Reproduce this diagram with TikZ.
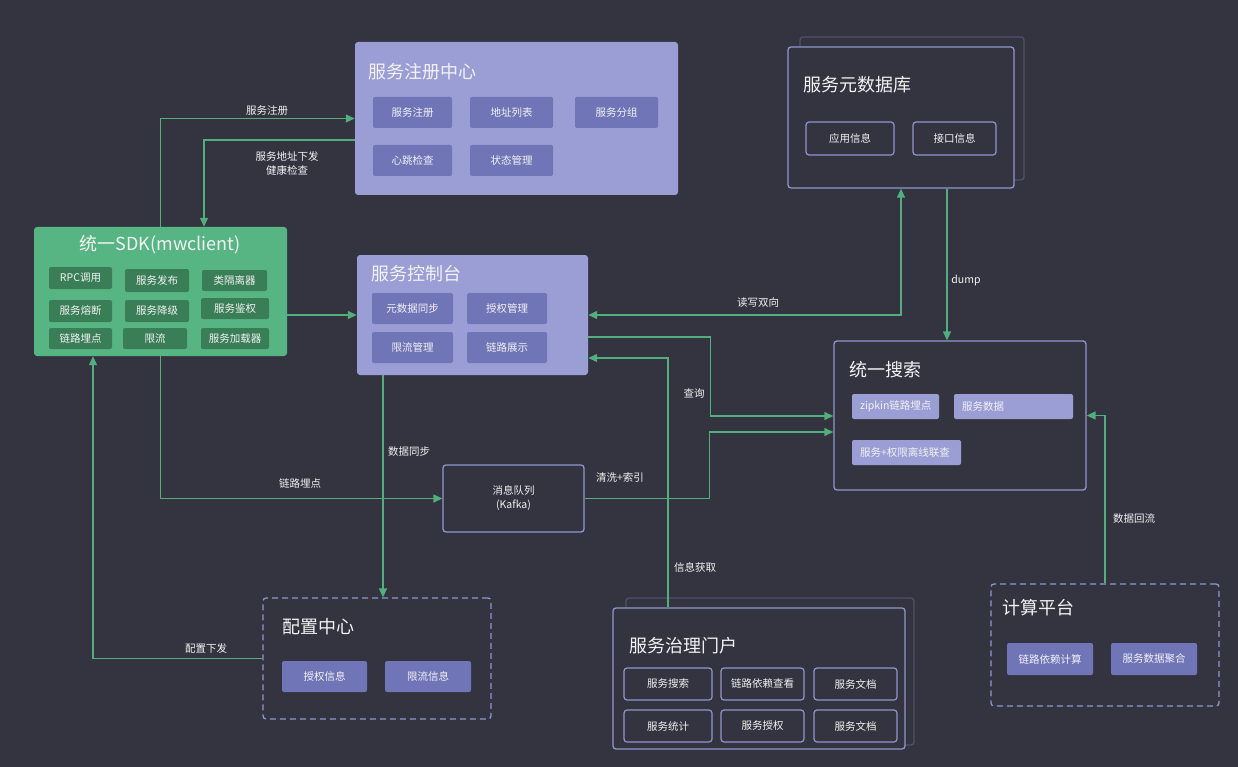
\documentclass[tikz,border=0pt]{standalone}
\usepackage{fontspec}
\setmainfont{Noto Sans CJK SC}
\usetikzlibrary{arrows.meta, positioning}

\definecolor{bgc}{HTML}{33343F}
\definecolor{fgc}{HTML}{F2F2F4}
\definecolor{lpurple}{HTML}{9B9ED5}
\definecolor{dpurple}{HTML}{7075B8}
\definecolor{opurple}{HTML}{9195CF}
\definecolor{backline}{HTML}{50516A}
\definecolor{lgreen}{HTML}{52AE7C}
\definecolor{sdkgreen}{HTML}{57B583}
\definecolor{dgreen}{HTML}{3A7E57}

\newcommand{\fsz}[1]{\fontsize{#1}{14}\selectfont}

\tikzset{gtip/.tip={Triangle[length=9pt,width=8pt]}}

\begin{document}
\begin{tikzpicture}[
		x=1pt, y=-1pt,
		sz/.style 2 args={minimum width=#1pt, minimum height=#2pt},
		panel/.style={fill=lpurple, rounded corners=3pt, inner sep=0},
		frame/.style={draw=opurple, line width=1.3pt, fill=bgc, rounded corners=3pt, inner sep=0},
		backframe/.style={draw=backline, line width=1.3pt, rounded corners=3pt},
		dframe/.style={frame, dash pattern=on 6pt off 4pt},
		item/.style={fill=dpurple, rounded corners=2pt, text=fgc, font=\fsz{10.5}, inner sep=0},
		oitem/.style={draw=opurple, line width=1.2pt, rounded corners=3pt, text=fgc, font=\fsz{10.5}, inner sep=0},
		gitem/.style={fill=dgreen, rounded corners=2pt, text=fgc, font=\fsz{10.5}, inner sep=0},
		sitem/.style={fill=lpurple, rounded corners=2pt, inner sep=0},
		ttl/.style={anchor=west, text=fgc, font=\fsz{18}, inner sep=0},
		lbl/.style={text=fgc, font=\fsz{10.5}, inner sep=0, align=center},
		link/.style={draw=lgreen, line width=1.3pt, -gtip}
		]
		
		\path[use as bounding box, fill=bgc] (0,0) rectangle (1238,767);
		
		% service registry
		\node[panel, sz={323}{153}] (reg) at (516.5,118.5) {};
		\node[ttl] (regt) at (368,72) {服务注册中心};
		\node[item, sz={79}{31}] (reg1) at (412.5,112.5) {服务注册};
		\node[item, sz={83}{31}] (reg2) at (511.5,112.5) {地址列表};
		\node[item, sz={83}{31}] (reg3) at (616.5,112.5) {服务分组};
		\node[item, sz={79}{31}] (reg4) at (412.5,160.5) {心跳检查};
		\node[item, sz={83}{31}] (reg5) at (511.5,160.5) {状态管理};
		
		% metadata db
		\draw[backframe] (800,37) rectangle (1024,180);
		\node[frame, sz={226}{141}] (meta) at (901,117.5) {};
		\node[ttl] (metat) at (803,85) {服务元数据库};
		\node[oitem, sz={88}{33}] (meta1) at (850,138.5) {应用信息};
		\node[oitem, sz={83}{33}] (meta2) at (954.5,138.5) {接口信息};
		
		% unified sdk
		\node[fill=sdkgreen, rounded corners=3pt, inner sep=0, sz={253}{129}] (sdk) at (160.5,291.5) {};
		\node[text=fgc, font=\fsz{18}, inner sep=0] (sdkt) at (160,245) {统一SDK(mwclient)};
		\node[gitem, sz={63}{22}] (sdk1) at (80.5,278) {RPC调用};
		\node[gitem, sz={64}{23}] (sdk2) at (157,280.5) {服务发布};
		\node[gitem, sz={65}{21}] (sdk3) at (234.5,280.5) {类隔离器};
		\node[gitem, sz={63}{22}] (sdk4) at (80.5,311) {服务熔断};
		\node[gitem, sz={64}{22}] (sdk5) at (157,311) {服务降级};
		\node[gitem, sz={68}{21}] (sdk6) at (235,308.5) {服务鉴权};
		\node[gitem, sz={63}{21}] (sdk7) at (80.5,338.5) {链路埋点};
		\node[gitem, sz={64}{21}] (sdk8) at (155,338.5) {限流};
		\node[gitem, sz={68}{21}] (sdk9) at (235,338.5) {服务加载器};
		
		% service console
		\node[panel, sz={231}{120}] (con) at (472.5,315) {};
		\node[ttl] (cont) at (371,274) {服务控制台};
		\node[item, sz={81}{31}] (con1) at (412.5,308.5) {元数据同步};
		\node[item, sz={80}{31}] (con2) at (507,308.5) {授权管理};
		\node[item, sz={81}{31}] (con3) at (412.5,347.5) {限流管理};
		\node[item, sz={80}{31}] (con4) at (507,347.5) {链路展示};
		
		% unified search
		\node[frame, sz={252}{149}] (search) at (960,415.5) {};
		\node[ttl] (searcht) at (849,370) {统一搜索};
		\node[sitem, sz={87}{25}] (srch1) at (895.5,406.5) {};
		\node[lbl, anchor=west] (srch1t) at ([xshift=8pt]srch1.west) {zipkin链路埋点};
		\node[sitem, sz={119}{25}] (srch2) at (1013.5,406.5) {};
		\node[lbl, anchor=west] (srch2t) at ([xshift=8pt]srch2.west) {服务数据};
		\node[sitem, sz={109}{25}] (srch3) at (906.5,452.5) {};
		\node[lbl, anchor=west] (srch3t) at ([xshift=8pt]srch3.west) {服务+权限离线联查};
		
		% message queue
		\node[frame, sz={141}{67}, text=fgc, font=\fsz{10.5}, align=center] (mq) at (513.5,498.5) {消息队列\\(Kafka)};
		
		% config center
		\node[dframe, sz={228}{121}] (cfg) at (377,658.5) {};
		\node[ttl] (cfgt) at (282,627) {配置中心};
		\node[item, sz={85}{31}] (cfg1) at (324.5,676.5) {授权信息};
		\node[item, sz={86}{31}] (cfg2) at (428,676.5) {限流信息};
		
		% governance portal
		\draw[backframe] (626,598) rectangle (914,745);
		\node[frame, sz={292}{141}] (portal) at (759,678.5) {};
		\node[ttl] (portalt) at (629,646) {服务治理门户};
		\node[oitem, sz={88}{32}] (por1) at (668,684) {服务搜索};
		\node[oitem, sz={83}{32}] (por2) at (762.5,684) {链路依赖查看};
		\node[oitem, sz={83}{32}] (por3) at (855.5,684) {服务文档};
		\node[oitem, sz={88}{32}] (por4) at (668,726) {服务统计};
		\node[oitem, sz={83}{32}] (por5) at (762.5,726) {服务授权};
		\node[oitem, sz={83}{32}] (por6) at (855.5,726) {服务文档};
		
		% computing platform
		\node[dframe, sz={228}{122}] (comp) at (1105,645) {};
		\node[ttl] (compt) at (1002,608) {计算平台};
		\node[item, sz={86}{32}] (comp1) at (1050,659) {链路依赖计算};
		\node[item, sz={86}{32}] (comp2) at (1154,659) {服务数据聚合};
		
		% connectors
		\draw[link] (sdk.north) |- (reg.west);
		\draw[link] (reg.west |- 0,140) -| (sdk.north -| 204,0);
		\draw[link] (sdk.east |- con.west) -- (con.west);
		\draw[link, gtip-gtip] (con.east) -| (meta.south);
		\draw[link] (meta.south -| 947,0) -- (search.north -| 947,0);
		\draw[link] (con.east |- 0,337) -- ++(122,0) |- (search.west |- 0,416);
		\draw[link] (portal.north -| 668,0) |- (con.east |- 0,358);
		\draw[link] (mq.east) -- ++(125,0) |- (search.west |- 0,432);
		\draw[link] (comp.north) |- (search.east);
		\draw[link] (sdk.south) |- (mq.west);
		\draw[link] (con.south -| 383,0) -- (cfg.north -| 383,0);
		\draw[link] (cfg.west) -| (sdk.south -| 93,0);
		
		% connector labels
		\node[lbl] (l1) at (267,111) {服务注册};
		\node[lbl] (l2) at (287,163) {服务地址下发\\健康检查};
		\node[lbl] (l3) at (758,303) {读写双向};
		\node[lbl] (l4) at (966,281) {dump};
		\node[lbl] (l5) at (694,393) {查询};
		\node[lbl] (l6) at (620,478) {清洗+索引};
		\node[lbl] (l7) at (695,567) {信息获取};
		\node[lbl] (l8) at (1134,519) {数据回流};
		\node[lbl] (l9) at (300,483) {链路埋点};
		\node[lbl] (l10) at (409,452) {数据同步};
		\node[lbl] (l11) at (206,648) {配置下发};
	\end{tikzpicture}
\end{document}
